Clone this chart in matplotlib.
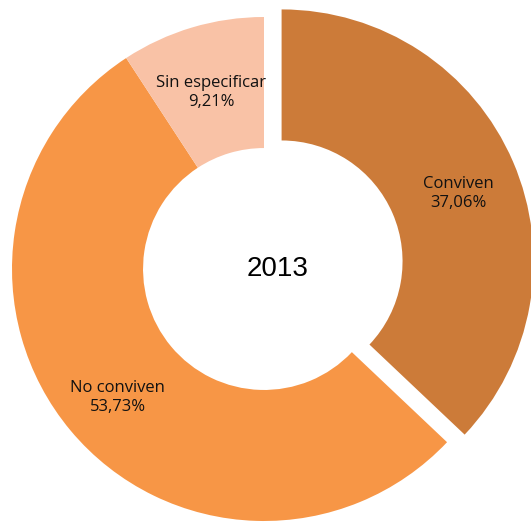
import matplotlib.pyplot as plt

categories = ['Conviven', 'No conviven', 'Sin especificar']
values = [37.06, 53.73, 9.21]
colors = ['#CC7B39', '#F79646', '#F9C2A6']
explode = [0.076, 0, 0]
title = '2013'

# label anchor points (relative to pie centre, radius = 1)
label_pos = [(0.77, 0.30), (-0.58, -0.51), (-0.21, 0.70)]

W, H = 531, 525
cx, cy, R = 264, 256, 252  # centre from bottom-left, radius in px

fig = plt.figure(figsize=(W / 100, H / 100), dpi=100)
ax = fig.add_axes([0, 0, 1, 1])
ax.pie(values, colors=colors, explode=explode, startangle=90, counterclock=False,
       radius=1, wedgeprops=dict(width=0.52, linewidth=0))

for name, v, (x, y) in zip(categories, values, label_pos):
    txt = f'{name}\n{v:.2f}%'.replace('.', ',')
    ax.text(x, y, txt, ha='center', va='center', fontsize=12,
            family='Open Sans', color='#111111', linespacing=1.2)

ax.text((278 - cx) / R, 0.0, title, ha='center', va='center', fontsize=20,
        family='Liberation Sans', color='black')

ax.set_xlim(-cx / R, (W - cx) / R)
ax.set_ylim(-cy / R, (H - cy) / R)
ax.set_aspect('equal', adjustable='box')
ax.axis('off')
fig.savefig('out.png', dpi=100)
